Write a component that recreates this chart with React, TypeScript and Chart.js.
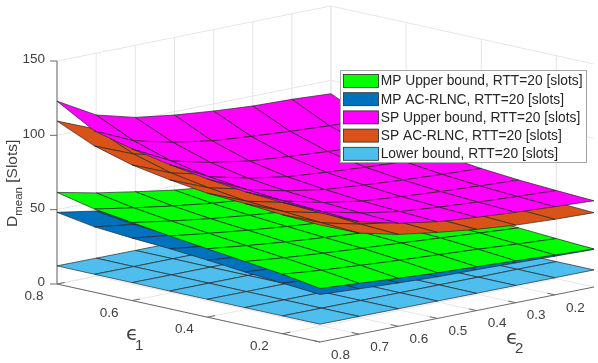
import React, { useEffect, useRef } from "react";
import { Chart, registerables } from "chart.js";

Chart.register(...registerables);

// ---- axes ----
const e1Grid = [0.8, 0.7, 0.6, 0.5, 0.4, 0.3, 0.2, 0.1];
const e2Grid = [0.8, 0.7, 0.6, 0.5, 0.4, 0.3, 0.2, 0.1];
const e1Ticks = [0.8, 0.6, 0.4, 0.2];
const e2Ticks = [0.8, 0.7, 0.6, 0.5, 0.4, 0.3, 0.2];
const zTicks = [0, 50, 100, 150];

// ---- surfaces: rows e1 = .8 .. .1, columns e2 = .8 .. .1 ----
const lowerBound = [
  [12.2, 12.1, 12, 12, 11.9, 11.9, 11.8, 11.8],
  [12.1, 12, 12, 11.9, 11.9, 11.8, 11.8, 11.7],
  [12.1, 12, 11.9, 11.9, 11.8, 11.8, 11.7, 11.7],
  [12, 12, 11.9, 11.8, 11.8, 11.7, 11.7, 11.6],
  [12, 11.9, 11.9, 11.8, 11.7, 11.7, 11.6, 11.6],
  [12, 11.9, 11.8, 11.8, 11.7, 11.6, 11.6, 11.6],
  [12, 11.9, 11.8, 11.7, 11.7, 11.6, 11.6, 11.5],
  [12, 11.9, 11.8, 11.7, 11.6, 11.6, 11.5, 11.5],
];
const mpAcRlnc = [
  [48.2, 43.8, 40, 37.5, 35.5, 34, 33, 32.4],
  [44, 40.3, 37.4, 35.2, 33.5, 32.2, 31.2, 30.5],
  [42, 38.6, 36, 34, 32.5, 31.2, 30.2, 29.4],
  [40.5, 37, 34.8, 33, 31.6, 30.4, 29.4, 28.6],
  [38.4, 35.6, 33.6, 32, 30.8, 29.6, 28.7, 28],
  [36, 33.8, 32.2, 31, 29.9, 28.9, 28.1, 27.3],
  [34, 32, 30.7, 29.6, 28.8, 27.9, 27.2, 26.3],
  [32, 30.5, 29.2, 28, 27.5, 26.8, 26, 25.3],
];
const mpUpper = [
  [61.6, 56, 51.5, 47.3, 44.3, 42, 40.5, 39.5],
  [56, 51.5, 47.5, 44, 41.5, 39.2, 37, 35],
  [52.5, 48.2, 44.5, 41.5, 39, 36.8, 34.6, 32.5],
  [49, 45.5, 42.3, 39.5, 37.2, 35, 32.8, 30.8],
  [46, 42.8, 40, 37.7, 35.7, 33.6, 31.6, 29.6],
  [43, 40.2, 38, 36, 34.3, 32.4, 30.5, 28.6],
  [40, 37.4, 35.4, 33.6, 32, 30.4, 28.6, 27],
  [36, 34.2, 32.3, 30.7, 29.5, 28.2, 26.8, 25.6],
];
const spAcRlnc = [
  [109.6, 98.9, 92.7, 88.8, 85.5, 83.1, 81.7, 80.9],
  [98.4, 87.7, 81.5, 77.6, 74.3, 71.9, 70.5, 69.7],
  [91.2, 80.5, 74.3, 70.4, 67.1, 64.7, 63.3, 62.5],
  [86.8, 76.1, 69.9, 66, 62.7, 60.3, 58.9, 58.1],
  [83.4, 72.7, 66.5, 62.6, 59.3, 56.9, 55.5, 54.7],
  [82, 71.3, 65.1, 61.2, 57.9, 55.5, 54.1, 53.3],
  [80, 69.3, 63.1, 59.2, 55.9, 53.5, 52.1, 51.3],
  [78.7, 68, 61.8, 57.9, 54.6, 52.2, 50.8, 50],
];
const spUpper = [
  [123, 108.4, 101.5, 97.8, 95.2, 93.3, 92.5, 91],
  [108.5, 96.6, 90.3, 86, 83.7, 81.8, 80.3, 79],
  [102, 88.6, 82.3, 78, 75.7, 73.8, 72.3, 71],
  [97, 83.6, 77.3, 73, 70.7, 68.8, 67.3, 66],
  [93, 80.6, 74.3, 70, 67.7, 65.8, 64.3, 63],
  [90, 78.4, 72.1, 67.8, 65.5, 63.6, 62.1, 60.8],
  [88.3, 76.9, 70.6, 66.3, 64, 62.1, 60.6, 59.3],
  [87, 75.6, 69.3, 65, 62.7, 60.8, 59.3, 58],
];

const legendLabels = [
  "MP Upper bound, RTT=20 [slots]",
  "MP AC-RLNC, RTT=20 [slots]",
  "SP Upper bound, RTT=20 [slots]",
  "SP AC-RLNC, RTT=20 [slots]",
  "Lower bound, RTT=20 [slots]",
];
const legendColors = ["#00ff00", "#0072bd", "#ff00ff", "#d95319", "#4dbeee"];

// painter's order: bottom surface first
const surfaces = [
  { z: lowerBound, color: "#4dbeee" },
  { z: mpAcRlnc, color: "#0072bd" },
  { z: mpUpper, color: "#00ff00" },
  { z: spAcRlnc, color: "#d95319" },
  { z: spUpper, color: "#ff00ff" },
];

// Orthographic view of the 3-D box, onto a page-sized linear x/y scale
const E_MAX = 0.8;
const E_SPAN = 0.7;
const origin = { x: 57, y: 284 };
const e1Vec = { x: 263, y: 58 };
const e2Vec = { x: 274, y: -55 };
const zPerUnit = 223 / 150;

function project(e1: number, e2: number, z: number) {
  const a = (E_MAX - e1) / E_SPAN;
  const b = (E_MAX - e2) / E_SPAN;
  return {
    x: origin.x + a * e1Vec.x + b * e2Vec.x,
    y: origin.y + a * e1Vec.y + b * e2Vec.y - z * zPerUnit,
  };
}

const E_MIN = E_MAX - E_SPAN;
const Z_MAX = zTicks[zTicks.length - 1];

function line(points: { x: number; y: number }[], color: string, width: number) {
  return {
    data: points,
    borderColor: color,
    borderWidth: width,
    pointRadius: 0,
    fill: false,
    tension: 0,
    clip: false,
    showLine: true,
  } as any;
}

function buildDatasets() {
  const sets: any[] = [];
  const grid = "#e6e6e6";
  const axis = "#6a6a6a";
  // floor + wall grid
  for (const e1 of e1Ticks) {
    sets.push(line([project(e1, E_MAX, 0), project(e1, E_MIN, 0), project(e1, E_MIN, Z_MAX)], grid, 1));
  }
  for (const e2 of e2Ticks) {
    sets.push(line([project(E_MIN, e2, 0), project(E_MAX, e2, 0), project(E_MAX, e2, Z_MAX)], grid, 1));
  }
  for (const z of zTicks) {
    sets.push(line([project(E_MAX, E_MAX, z), project(E_MAX, E_MIN, z), project(E_MIN, E_MIN, z)], grid, 1));
  }
  sets.push(line([project(E_MAX, E_MIN, 0), project(E_MAX, E_MIN, Z_MAX)], grid, 1));
  // axes
  sets.push(line([project(E_MAX, E_MAX, 0), project(E_MAX, E_MAX, Z_MAX)], axis, 1));
  sets.push(line([project(E_MAX, E_MAX, 0), project(E_MIN, E_MAX, 0), project(E_MIN, E_MIN, 0)], axis, 1));
  // ticks
  for (const z of zTicks) {
    const p = project(E_MAX, E_MAX, z);
    sets.push(line([p, { x: p.x - 7, y: p.y }], axis, 1));
  }
  for (const e1 of e1Ticks) {
    sets.push(line([project(e1, E_MAX, 0), project(e1, E_MAX - 0.02, 0)], axis, 1));
  }
  for (const e2 of e2Ticks) {
    sets.push(line([project(E_MIN, e2, 0), project(E_MIN + 0.02, e2, 0)], axis, 1));
  }
  // surfaces, far cells first
  for (const s of surfaces) {
    for (let i = 0; i < e1Grid.length - 1; i++) {
      for (let j = e2Grid.length - 2; j >= 0; j--) {
        const pts = [
          project(e1Grid[i], e2Grid[j], s.z[i][j]),
          project(e1Grid[i], e2Grid[j + 1], s.z[i][j + 1]),
          project(e1Grid[i + 1], e2Grid[j + 1], s.z[i + 1][j + 1]),
          project(e1Grid[i + 1], e2Grid[j], s.z[i + 1][j]),
        ];
        pts.push(pts[0]);
        const ds = line(pts, "#262626", 0.7);
        ds.faceColor = s.color;
        sets.push(ds);
      }
    }
  }
  // first built is painted first
  sets.forEach((d, i) => (d.order = sets.length - i));
  return sets;
}

const facePlugin = {
  id: "faceFill",
  beforeDatasetDraw(chart: any, args: any) {
    const ds = chart.data.datasets[args.index];
    if (!ds.faceColor) return;
    const pts = args.meta.data;
    const ctx = chart.ctx;
    ctx.save();
    ctx.beginPath();
    pts.forEach((p: any, i: number) => (i ? ctx.lineTo(p.x, p.y) : ctx.moveTo(p.x, p.y)));
    ctx.closePath();
    ctx.fillStyle = ds.faceColor;
    ctx.fill();
    ctx.restore();
  },
};

const SANS = '"Liberation Sans", Arial, sans-serif';
const TEXT = "#404040";

const textPlugin = {
  id: "axisText",
  afterDatasetsDraw(chart: any) {
    const ctx = chart.ctx;
    ctx.save();
    ctx.fillStyle = TEXT;
    ctx.font = `13.5px ${SANS}`;
    ctx.textBaseline = "middle";
    ctx.textAlign = "right";
    for (const z of zTicks) {
      const p = project(E_MAX, E_MAX, z);
      ctx.fillText(String(z), p.x - 12, p.y - 1.5);
    }
    ctx.textAlign = "center";
    for (const e1 of e1Ticks) {
      const p = project(e1, E_MAX, 0);
      ctx.fillText(e1.toFixed(1), p.x - 23, p.y + 12.5);
    }
    for (const e2 of e2Ticks) {
      const p = project(E_MIN, e2, 0);
      ctx.fillText(e2.toFixed(1), p.x + 20.5, p.y + 13);
    }
    // axis titles
    ctx.textBaseline = "alphabetic";
    ctx.textAlign = "left";
    ctx.font = '20px "DejaVu Sans", sans-serif';
    ctx.fillText("\u03f5", 126, 340);
    ctx.fillText("\u03f5", 506, 344);
    ctx.font = `15px ${SANS}`;
    ctx.fillText("1", 135, 350);
    ctx.fillText("2", 515, 353);
    // z title (rotated)
    ctx.save();
    ctx.translate(17, 227);
    ctx.rotate(-Math.PI / 2);
    ctx.font = `15.5px ${SANS}`;
    ctx.fillText("D", 0, 0);
    const dW = ctx.measureText("D").width;
    ctx.font = `11.5px ${SANS}`;
    ctx.fillText("mean", dW, 5);
    const mW = ctx.measureText("mean").width;
    ctx.font = `15.5px ${SANS}`;
    ctx.fillText(" [Slots]", dW + mW, 0);
    ctx.restore();

    // legend box
    ctx.fillStyle = "#ffffff";
    ctx.fillRect(340.5, 70.5, 246, 92);
    ctx.strokeStyle = "#a6a6a6";
    ctx.lineWidth = 1;
    ctx.strokeRect(340.5, 70.5, 246, 92);
    ctx.font = `13.8px ${SANS}`;
    ctx.textBaseline = "middle";
    legendLabels.forEach((label, i) => {
      const cy = 81 + i * 18.2;
      ctx.fillStyle = legendColors[i];
      ctx.fillRect(343.5, cy - 6.5, 35, 13);
      ctx.strokeStyle = "#2a2a2a";
      ctx.lineWidth = 0.8;
      ctx.strokeRect(343.5, cy - 6.5, 35, 13);
      ctx.fillStyle = "#262626";
      ctx.fillText(label, 380.7, cy + 0.5);
    });
    ctx.restore();
  },
};

export default function App() {
  const ref = useRef<HTMLCanvasElement>(null);
  useEffect(() => {
    const chart = new Chart(ref.current as HTMLCanvasElement, {
      type: "scatter",
      data: { datasets: buildDatasets() },
      options: {
        animation: false,
        responsive: false,
        events: [],
        layout: { padding: 0 },
        plugins: { legend: { display: false }, tooltip: { enabled: false } },
        scales: {
          x: { type: "linear", min: 0, max: 598, display: false },
          y: { type: "linear", min: 0, max: 363, reverse: true, display: false },
        },
      },
      plugins: [facePlugin, textPlugin],
    } as any);
    return () => chart.destroy();
  }, []);
  return (
    <div style={{ position: "absolute", left: 0, top: 0, width: 598, height: 363, background: "#fff" }}>
      <canvas ref={ref} width={598} height={363} style={{ display: "block", filter: "blur(0.3px)" }} />
    </div>
  );
}
